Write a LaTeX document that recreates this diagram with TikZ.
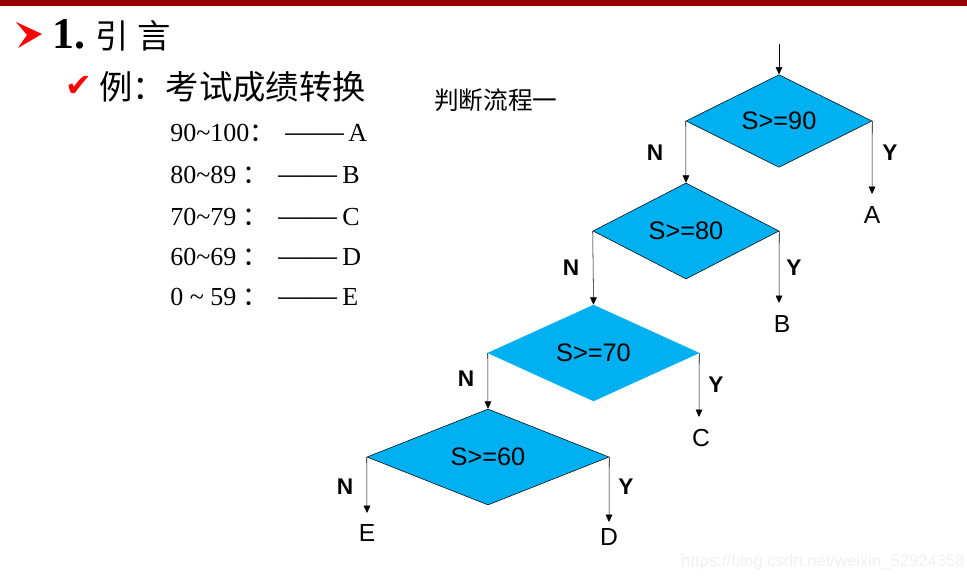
\documentclass[tikz,border=0pt]{standalone}
\usepackage{fontspec}
\setmainfont{Liberation Serif}
\newfontfamily\arial{Liberation Sans}
\newfontfamily\cjk{Noto Sans CJK SC}
\newfontfamily\dejavu{DejaVu Sans}
\usetikzlibrary{shapes.geometric,arrows.meta,positioning}
\definecolor{barred}{RGB}{153,0,0}
\definecolor{boxblue}{RGB}{0,176,240}
\newcommand{\fsize}[1]{\fontsize{#1}{#1}\selectfont}

\begin{document}
\begin{tikzpicture}[x=0.75pt, y=-0.75pt, >={Triangle[length=5.5pt,width=5pt]},
    cond/.style={diamond, draw, fill=boxblue, inner sep=0pt, font=\arial\fsize{19pt}},
    branch/.style={font=\arial\bfseries\fsize{17pt}, inner sep=0pt},
    grade/.style={font=\arial\fsize{18.5pt}, inner sep=0pt}]
    \useasboundingbox (0,0) rectangle (967,581);
    % Kopfzeile
    \fill[barred] (0,0) rectangle (967,6.5);
    \fill[red] (16,22) -- (42,34) -- (18,48) -- (27,35) -- cycle;
    \node[anchor=west, inner sep=0pt, font=\fsize{33pt}] (title) at (52,35) {\textbf{1.}\hspace{8pt}{\cjk\fsize{25pt}引\hspace{6pt}言}};
    \node[text=red, font=\dejavu\fsize{24pt}, inner sep=0pt] (tick) at (79,86) {✔};
    \node[anchor=west, inner sep=0pt, font=\cjk\fsize{25pt}] (example) at (99,87) {例：考试成绩转换};

    % Notentabelle
    \foreach \range/\grade/\b/\x/\g in {{90\textasciitilde100}/A/142/285/348, {80\textasciitilde89 }/B/184/278/342, {70\textasciitilde79 }/C/225/278/342, {60\textasciitilde69 }/D/265/278/342, {0 \textasciitilde{} 59 }/E/305/278/342}{
        \node[anchor=base west, inner sep=0pt, font=\fsize{19.5pt}] (range\grade) at (170,\b) {\range{\cjk ：}};
        \node[anchor=base west, inner sep=0pt, font=\fsize{22pt}] (dash\grade) at (\x,\b) {——};
        \node[anchor=base west, inner sep=0pt, font=\fsize{19.5pt}] (letter\grade) at (\g,\b) {\grade};
    }

    \node[anchor=west, inner sep=0pt, font=\cjk\fsize{18.5pt}] (caption) at (434,100) {判断流程一};

    % Entscheidungen
    \node[cond, minimum width=139.5pt, minimum height=66pt] (c90) at (779,121) {S>=90};
    \node[cond, minimum width=139.5pt, minimum height=72pt] (c80) at (686,231) {S>=80};
    \node[cond, draw=boxblue, minimum width=158.25pt, minimum height=72pt] (c70) at (593.5,353) {S>=70};
    \node[cond, minimum width=181.5pt, minimum height=72pt] (c60) at (488,457) {S>=60};

    % Ergebnisse
    \node[grade] (resA) at (872,215) {A};
    \node[grade] (resB) at (782,324) {B};
    \node[grade] (resC) at (701,438) {C};
    \node[grade] (resD) at (609,537) {D};
    \node[grade] (resE) at (367,533) {E};

    \coordinate (start) at (779,44);
    \coordinate (endA) at (872,194);
    \coordinate (endB) at (779,303);
    \coordinate (endC) at (699,417);
    \coordinate (endD) at (609,522);
    \coordinate (endE) at (367,513);

    % Pfeile
    \draw[->] (start) -- (c90.north);
    \draw[->] (c90.west) -- (c80.north);
    \draw[->] (c80.west) -- (c70.north);
    \draw[->] (c70.west) -- (c60.north);
    \draw[->] (c60.west) -- (endE);
    \draw[->] (c90.east) -- (endA);
    \draw[->] (c80.east) -- (endB);
    \draw[->] (c70.east) -- (endC);
    \draw[->] (c60.east) -- (endD);

    % Beschriftungen
    \node[branch] (n90) at (655,153) {N};
    \node[branch] (y90) at (890,153) {Y};
    \node[branch] (n80) at (571,268) {N};
    \node[branch] (y80) at (794,268) {Y};
    \node[branch] (n70) at (466,379) {N};
    \node[branch] (y70) at (716,385) {Y};
    \node[branch] (n60) at (345,487) {N};
    \node[branch] (y60) at (626,487) {Y};

    \node[font=\arial\fsize{12.5pt}, text=gray!12] (mark) at (823,562) {https://blog.csdn.net/weixin\_52924358};
\end{tikzpicture}
\end{document}
